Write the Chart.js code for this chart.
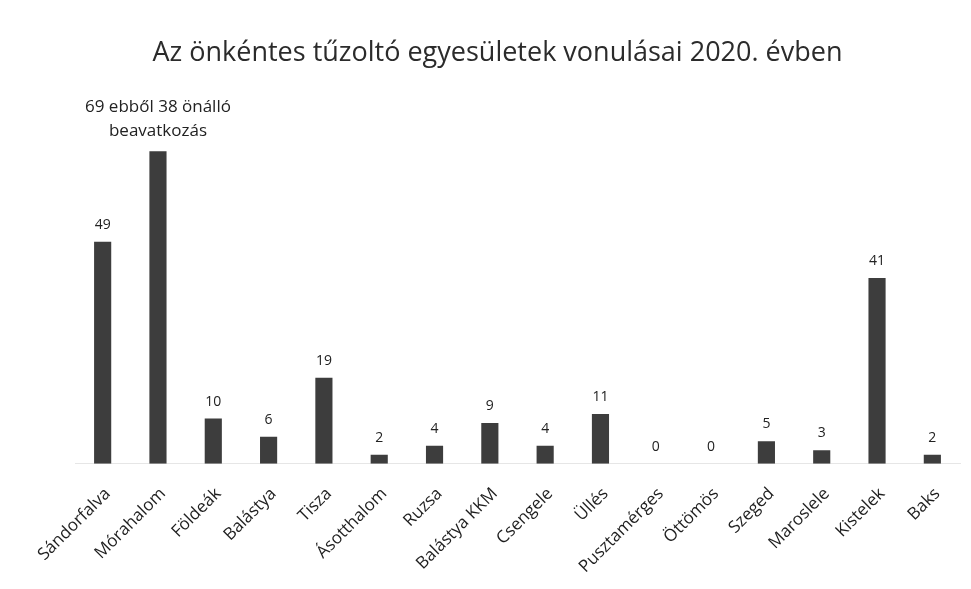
<!DOCTYPE html>
<html>
<head>
<meta charset="utf-8">
<script src="https://cdn.jsdelivr.net/npm/chart.js@4/dist/chart.umd.min.js"></script>
<style>
  html, body { margin: 0; padding: 0; background: #fff; }
  #wrap { width: 971px; height: 589px; position: relative; }
</style>
</head>
<body>
<div id="wrap"><canvas id="c"></canvas></div>
<script>
// ── Data ──
const towns = ['Sándorfalva', 'Mórahalom', 'Földeák', 'Balástya', 'Tisza', 'Ásotthalom', 'Ruzsa', 'Balástya KKM',
  'Csengele', 'Üllés', 'Pusztamérges', 'Öttömös', 'Szeged', 'Maroslele', 'Kistelek', 'Baks'];
const callouts = [49, 69, 10, 6, 19, 2, 4, 9, 4, 11, 0, 0, 5, 3, 41, 2];
const barTexts = ['49', ['69 ebből 38 önálló', 'beavatkozás'], '10', '6', '19', '2', '4', '9',
  '4', '11', '0', '0', '5', '3', '41', '2'];

const FONT = '"Open Sans", Lato, sans-serif';

// ── Value labels above bars ──
const valueLabels = {
  id: 'valueLabels',
  afterDatasetsDraw(chart) {
    const ctx = chart.ctx;
    const meta = chart.getDatasetMeta(0);
    ctx.save();
    ctx.fillStyle = '#222';
    ctx.textAlign = 'center';
    ctx.textBaseline = 'bottom';
    meta.data.forEach((bar, i) => {
      const t = barTexts[i];
      const multi = Array.isArray(t);
      const lines = multi ? t : [t];
      ctx.font = (multi ? '17px ' : '14px ') + FONT;
      let y = bar.y - (multi ? 12 : 10);
      for (let k = lines.length - 1; k >= 0; k--) {
        ctx.fillText(lines[k], bar.x, y);
        y -= 24;
      }
    });
    ctx.restore();
  }
};

new Chart(document.getElementById('c').getContext('2d'), {
  type: 'bar',
  data: {
    labels: towns,
    datasets: [{
      data: callouts,
      backgroundColor: '#3d3d3d',
      barPercentage: 0.31,
      categoryPercentage: 1
    }]
  },
  options: {
    responsive: true,
    maintainAspectRatio: false,
    animation: false,
    layout: { padding: { left: 35, right: 11, top: 37, bottom: 0 } },
    plugins: {
      legend: { display: false },
      tooltip: { enabled: false },
      title: {
        display: true,
        text: 'Az önkéntes tűzoltó egyesületek vonulásai 2020. évben',
        color: '#2b2b2b',
        font: { family: FONT, size: 27, weight: 'normal' },
        padding: { top: 0, bottom: 32 }
      }
    },
    scales: {
      x: {
        grid: { display: false },
        border: { display: true, color: '#e6e6e6' },
        ticks: {
          color: '#1e1e1e',
          font: { family: FONT, size: 17 },
          minRotation: 45, maxRotation: 45,
          autoSkip: false,
          padding: 12,
          labelOffset: 5
        }
      },
      y: {
        display: true,
        min: 0,
        max: 80,
        grid: { display: false },
        border: { display: false },
        ticks: { display: false },
        afterFit: s => { s.width = 40; }
      }
    }
  },
  plugins: [valueLabels]
});
</script>
</body>
</html>
